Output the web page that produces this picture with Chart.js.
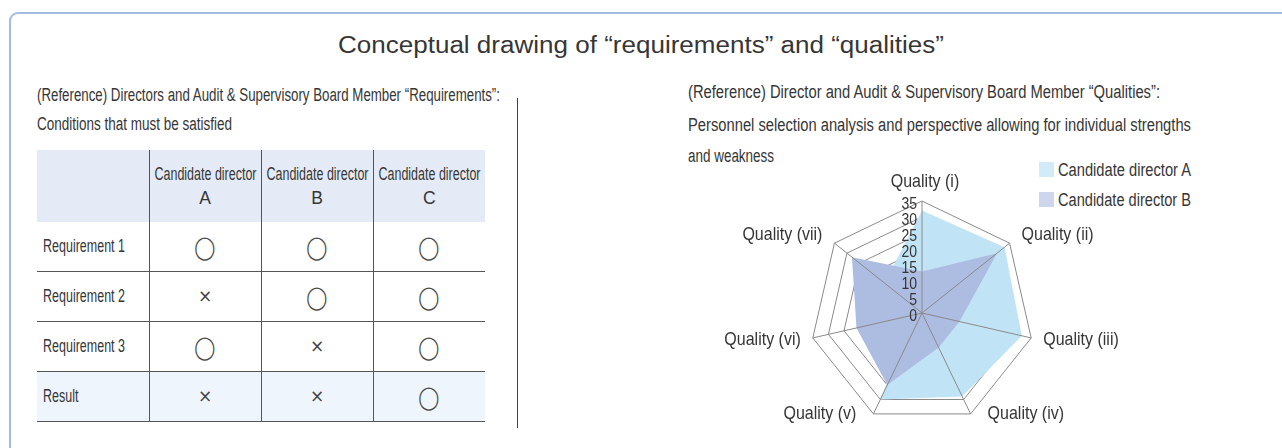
<!DOCTYPE html>
<html><head><meta charset="utf-8">
<script src="https://cdn.jsdelivr.net/npm/chart.js@4.4.1/dist/chart.umd.min.js"></script>
<style>
html,body{margin:0;padding:0;background:#fff;}
body{width:1282px;height:448px;position:relative;overflow:hidden;font-family:"Liberation Sans",Arial,sans-serif;color:#363636;}
.box{position:absolute;left:9px;top:12px;width:1300px;height:470px;border:2px solid #a2bce2;border-radius:9px;box-sizing:border-box;}
.t{position:absolute;white-space:nowrap;line-height:20px;transform-origin:0 50%;}
#title{top:33px;font-size:23px;line-height:25px;left:338px;}
.subl{font-size:18px;}
.subr{font-size:18px;}
#divider{position:absolute;left:517px;top:98px;width:1px;height:330px;background:#444;}
table{position:absolute;left:37px;top:150px;width:448px;border-collapse:collapse;table-layout:fixed;font-size:17.5px;}
td{padding:0;height:49px;text-align:center;border-bottom:1.5px solid #555;}
td.c,th.c{border-left:1px solid #555;}
th{font-weight:normal;background:#e5ebf6;height:72px;line-height:24px;padding:0;white-space:nowrap;overflow:visible;}
.hc{display:flex;justify-content:center;width:100%;}
td.rl{text-align:left;padding-left:6px;}
.fit{display:inline-block;white-space:nowrap;transform-origin:0 50%;}
tr.res td{background:#eff5fc;}
.o{display:inline-block;font-size:23px;transform:scaleX(0.82);font-family:"DejaVu Sans",sans-serif;color:#4a4a4a;}
.x{font-size:17px;font-family:"DejaVu Sans",sans-serif;color:#444;}
#chartwrap{position:absolute;left:700px;top:160px;width:582px;height:288px;}
.lg{position:absolute;left:1039px;font-size:18px;}
.sw{position:absolute;left:0;top:2px;width:15px;height:15px;}
.lt{position:absolute;left:19px;top:0;white-space:nowrap;line-height:20px;transform-origin:0 50%;}
</style></head>
<body>
<div class="box"></div>
<div class="t" id="title" data-w="606">Conceptual drawing of “requirements” and “qualities”</div>
<div class="t subl" data-w="463" style="left:37px;top:85px;">(Reference) Directors and Audit &amp; Supervisory Board Member “Requirements”:</div>
<div class="t subl" data-w="195" style="left:37px;top:114px;">Conditions that must be satisfied</div>
<div id="divider"></div>
<table id="tbl"></table>
<div class="t subr" data-w="472" style="left:688px;top:82px;">(Reference) Director and Audit &amp; Supervisory Board Member “Qualities”:</div>
<div class="t subr" data-w="503" style="left:688px;top:115px;">Personnel selection analysis and perspective allowing for individual strengths</div>
<div class="t subr" data-w="86" style="left:688px;top:146px;">and weakness</div>
<div id="legend"></div>
<div id="chartwrap"><canvas id="c" width="582" height="288"></canvas></div>
<script>
// ---- table data ----
const tableCols = ["Candidate director A", "Candidate director B", "Candidate director C"];
const tableRows = ["Requirement 1", "Requirement 2", "Requirement 3", "Result"];
const marksA = ["◯", "×", "◯", "×"];
const marksB = ["◯", "◯", "×", "×"];
const marksC = ["◯", "◯", "◯", "◯"];

// ---- radar data ----
const qualities = ["Quality (i)", "Quality (ii)", "Quality (iii)", "Quality (iv)", "Quality (v)", "Quality (vi)", "Quality (vii)"];
const candidateA = [32, 33, 32, 29, 30, 3, 15];
const candidateB = [13, 30, 12, 12, 25, 21, 28];
const seriesNames = ["Candidate director A", "Candidate director B"];
const scaleMin = 0, scaleMax = 35, scaleStep = 5;

const FONT = '"Liberation Sans",Arial,sans-serif';

// build table
(function(){
  const t = document.getElementById('tbl');
  const colW = [112, 112, 112, 112];
  let html = '<colgroup>' + colW.map(w => '<col style="width:' + w + 'px">').join('') + '</colgroup>';
  html += '<tr><th></th>' + tableCols.map(c => {
    const i = c.lastIndexOf(' ');
    return '<th class="c"><div class="hc"><span class="fit" data-w="102" data-c="1">' + c.slice(0, i) + '</span></div><div class="hc">' + c.slice(i + 1) + '</div></th>';
  }).join('') + '</tr>';
  const cols = [marksA, marksB, marksC];
  tableRows.forEach((r, ri) => {
    html += '<tr' + (ri === tableRows.length - 1 ? ' class="res"' : '') + '><td class="rl"><span class="fit rowlab">' + r + '</span></td>';
    cols.forEach(m => {
      const v = m[ri];
      html += '<td class="c">' + (v === '◯' ? '<span class="o">◯</span>' : '<span class="x">×</span>') + '</td>';
    });
    html += '</tr>';
  });
  t.innerHTML = html;
})();

// legend
const fillColors = ['#c0e4f6', '#adbce1'];
const legendColors = ['#d2ebf8', '#cdd6ec'];
(function(){
  const lg = document.getElementById('legend');
  seriesNames.forEach((n, i) => {
    const d = document.createElement('div');
    d.className = 'lg';
    d.style.top = (160 + i * 30) + 'px';
    d.innerHTML = '<div class="sw" style="background:' + legendColors[i] + '"></div><div class="lt" data-w="133">' + n + '</div>';
    lg.appendChild(d);
  });
})();

// condensed look: fit text widths
document.querySelectorAll('[data-w]').forEach(el => {
  const w = el.getBoundingClientRect().width;
  const s = parseFloat(el.dataset.w) / w;
  el.style.transform = 'scaleX(' + s.toFixed(4) + ')';
  if (el.dataset.c) el.style.transformOrigin = '50% 50%';
});
(function(){
  const labs = document.querySelectorAll('.rowlab');
  const s = 82 / labs[0].getBoundingClientRect().width;
  labs.forEach(el => { el.style.transform = 'scaleX(' + s.toFixed(4) + ')'; });
})();

function condText(ctx, txt, x, y, align, sx) {
  const w = ctx.measureText(txt).width * sx;
  let x0 = x;
  if (align === 'center') x0 = x - w / 2;
  else if (align === 'right') x0 = x - w;
  ctx.save();
  ctx.translate(x0, y);
  ctx.scale(sx, 1);
  ctx.textAlign = 'left';
  ctx.fillText(txt, 0, 0);
  ctx.restore();
}

const overlay = {
  id: 'overlay',
  afterDatasetsDraw(chart) {
    const s = chart.scales.r;
    const ctx = chart.ctx;
    const n = chart.data.labels.length;
    ctx.save();
    ctx.strokeStyle = '#8a8a8a';
    ctx.lineWidth = 1;
    for (let i = 0; i < n; i++) {
      const p = s.getPointPosition(i, s.drawingArea);
      ctx.beginPath();
      ctx.moveTo(s.xCenter, s.yCenter);
      ctx.lineTo(p.x, p.y);
      ctx.stroke();
    }
    ctx.fillStyle = '#363636';
    ctx.font = '16.5px ' + FONT;
    ctx.textBaseline = 'middle';
    s.ticks.forEach(t => {
      const d = s.getDistanceFromCenterForValue(t.value);
      condText(ctx, t.label, s.xCenter - 5, s.yCenter - d + 3, 'right', 0.85);
    });
    ctx.font = '18.5px ' + FONT;
    for (let i = 0; i < n; i++) {
      const p = s.getPointPosition(i, s.drawingArea);
      const a = s.getIndexAngle(i);
      const sn = Math.sin(a), cs = Math.cos(a);
      let x = p.x, y = p.y, align;
      if (Math.abs(sn) < 0.01) {
        align = 'center';
        y -= 19;
        x += 3;
      } else {
        align = sn > 0 ? 'left' : 'right';
        x += Math.sign(sn) * (cs < -0.5 ? 17 : 12);
        y += (cs > 0.5 ? -8 : (cs > -0.5 ? 2 : 0));
      }
      condText(ctx, chart.data.labels[i], x, y, align, 0.865);
    }
    ctx.restore();
  }
};

new Chart(document.getElementById('c'), {
  type: 'radar',
  data: {
    labels: qualities,
    datasets: [
      { label: seriesNames[0], data: candidateA, backgroundColor: fillColors[0], borderWidth: 0, pointRadius: 0, fill: true, order: 2 },
      { label: seriesNames[1], data: candidateB, backgroundColor: fillColors[1], borderWidth: 0, pointRadius: 0, fill: true, order: 1 }
    ]
  },
  options: {
    responsive: false,
    animation: false,
    devicePixelRatio: 1,
    layout: { padding: { left: 110, right: 248, top: 41, bottom: 23 } },
    plugins: { legend: { display: false }, tooltip: { enabled: false } },
    elements: { line: { tension: 0 } },
    scales: {
      r: {
        min: scaleMin, max: scaleMax,
        ticks: { stepSize: scaleStep, display: false },
        grid: { color: '#8a8a8a', lineWidth: 1 },
        angleLines: { display: false },
        pointLabels: { display: false }
      }
    }
  },
  plugins: [overlay]
});
</script>
</body></html>
